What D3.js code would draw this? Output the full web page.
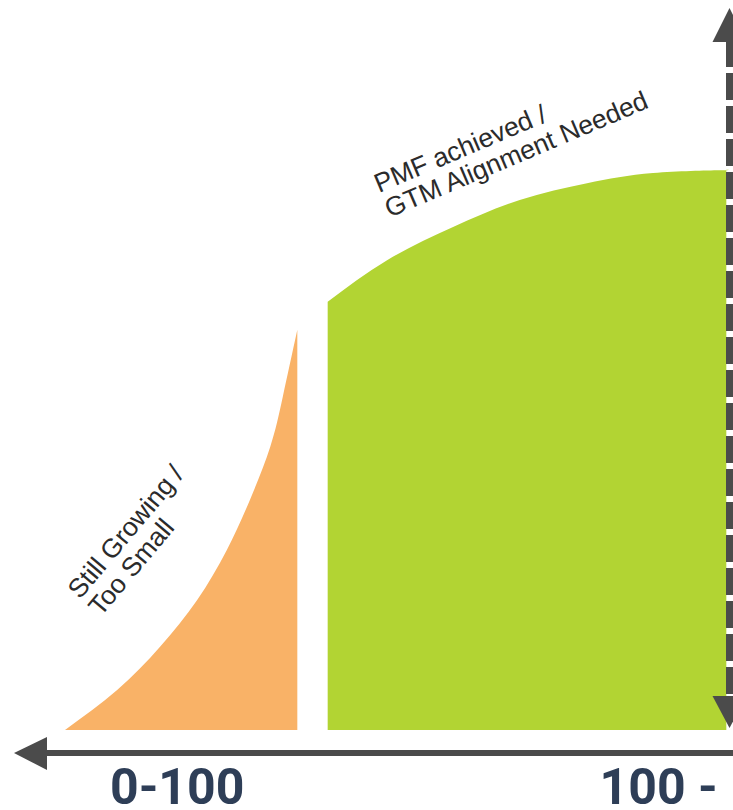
<!DOCTYPE html>
<html>
<head>
<meta charset="utf-8">
<script src="https://cdn.jsdelivr.net/npm/d3@7"></script>
<style>
  html, body { margin: 0; padding: 0; background: #fff; }
  svg { display: block; }
</style>
</head>
<body>
<svg id="chart" width="733" height="810"></svg>
<script>
// stage curves, x = position along the scale (0-100), y = relative height (0-100)
var growingX = [0, 7.9, 14.4, 20.0, 24.5, 28.0, 31.1, 33.0, 35.2];
var growingY = [0, 7.1, 14.8, 23.1, 32.0, 40.9, 50.4, 59.3, 71.2];

var pmfX = [39.8, 48.8, 58.8, 68.9, 79.1, 89.1, 99.2, 100.2];
var pmfY = [76.2, 83.6, 89.5, 94.3, 97.3, 99.1, 99.6, 99.7];

var categories = ["0-100", "100 -"];
var categoryPos = [17, 81];

var stageLabels = [["Still Growing /", "Too Small"], ["PMF achieved /", "GTM Alignment Needed"]];

var svg = d3.select("#chart");

var x = d3.scaleLinear().domain([0, 100]).range([65, 725]);
var y = d3.scaleLinear().domain([0, 100]).range([730, 168]);

var grey = "#4b4b4b";

function zipPts(xs, ys) {
    return xs.map(function(d, i) { return {x: d, y: ys[i]}; });
}

var area = d3.area()
    .x(function(d) { return x(d.x); })
    .y0(y(0))
    .y1(function(d) { return y(d.y); })
    .curve(d3.curveNatural);

svg.append("path")
    .datum(zipPts(growingX, growingY))
    .attr("d", area)
    .attr("fill", "#f9b267");

svg.append("path")
    .datum(zipPts(pmfX, pmfY))
    .attr("d", area)
    .attr("fill", "#b2d433");

// horizontal axis, arrow pointing left
var axisY = 753;
svg.append("line")
    .attr("x1", 40).attr("x2", 733)
    .attr("y1", axisY).attr("y2", axisY)
    .attr("stroke", grey).attr("stroke-width", 6);
svg.append("path")
    .attr("d", d3.line()([[14, axisY], [47, axisY - 16], [47, axisY + 17]]) + "Z")
    .attr("fill", grey);

// dashed double arrow on the right
var vx = 729.5;
svg.append("line")
    .attr("x1", vx).attr("x2", vx)
    .attr("y1", 40).attr("y2", 700)
    .attr("stroke", grey).attr("stroke-width", 7)
    .attr("stroke-dasharray", "27,6");
svg.append("path")
    .attr("d", d3.line()([[vx, 8], [vx - 17, 42], [vx + 17, 42]]) + "Z")
    .attr("fill", grey);
svg.append("path")
    .attr("d", d3.line()([[vx, 728], [vx - 17, 696], [vx + 17, 696]]) + "Z")
    .attr("fill", grey);

// stage labels
var labelPos = [
    {x: 80, y: 600, angle: -50},
    {x: 379, y: 193, angle: -23}
];
stageLabels.forEach(function(lines, i) {
    var p = labelPos[i];
    var t = svg.append("text")
        .attr("transform", "translate(" + p.x + "," + p.y + ") rotate(" + p.angle + ")")
        .attr("font-family", "Liberation Sans, Arial, sans-serif")
        .attr("font-size", 26.5)
        .attr("fill", "#2b2b2b");
    t.selectAll("tspan")
        .data(lines)
        .enter().append("tspan")
        .attr("x", 0)
        .attr("dy", function(d, j) { return j ? 27 : 0; })
        .text(function(d) { return d; });
});

// category labels under the axis
svg.selectAll(".cat")
    .data(categories)
    .enter().append("text")
    .attr("class", "cat")
    .attr("x", function(d, i) { return x(categoryPos[i]); })
    .attr("y", 804)
    .attr("text-anchor", function(d, i) { return i ? "start" : "middle"; })
    .attr("font-family", "Roboto, Liberation Sans, sans-serif")
    .attr("font-weight", 700)
    .attr("font-size", 50)
    .attr("fill", "#2e3e57")
    .text(function(d) { return d; });
</script>
</body>
</html>
